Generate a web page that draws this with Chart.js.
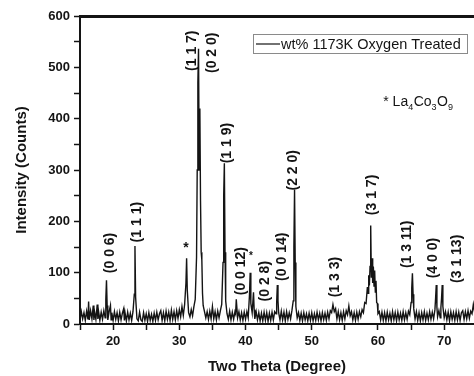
<!DOCTYPE html>
<html>
<head>
<meta charset="utf-8">
<script src="https://cdn.jsdelivr.net/npm/chart.js@4.4.1/dist/chart.umd.min.js"></script>
<style>
  html, body { margin: 0; padding: 0; background: #fff; }
</style>
</head>
<body>
<canvas id="xrd" width="474" height="376"></canvas>
<script>
// XRD pattern (2 theta in degrees, intensity in counts)
const twoTheta = [
  15.0, 15.2, 15.4, 15.6, 15.8, 16.0, 16.2, 16.3, 16.4, 16.6,
  16.8, 17.0, 17.1, 17.2, 17.4, 17.6, 17.7, 17.8, 18.0, 18.2,
  18.4, 18.6, 18.8, 18.9, 19.0, 19.1, 19.2, 19.4, 19.6, 19.7,
  19.8, 20.0, 20.2, 20.4, 20.6, 20.8, 21.0, 21.2, 21.4, 21.6,
  21.7, 21.8, 22.0, 22.2, 22.4, 22.6, 22.8, 23.0, 23.2, 23.3,
  23.4, 23.6, 23.8, 24.0, 24.2, 24.4, 24.6, 24.8, 25.0, 25.2,
  25.4, 25.6, 25.8, 26.0, 26.2, 26.4, 26.6, 26.8, 27.0, 27.2,
  27.4, 27.6, 27.8, 28.0, 28.2, 28.4, 28.6, 28.8, 29.0, 29.2,
  29.4, 29.6, 29.8, 30.0, 30.2, 30.4, 30.6, 30.8, 31.0, 31.1,
  31.2, 31.4, 31.6, 31.8, 32.0, 32.2, 32.4, 32.6, 32.7, 32.8,
  32.9, 33.0, 33.1, 33.2, 33.3, 33.4, 33.5, 33.6, 33.8, 34.0,
  34.2, 34.4, 34.6, 34.8, 35.0, 35.2, 35.4, 35.6, 35.8, 36.0,
  36.2, 36.4, 36.6, 36.7, 36.8, 36.9, 37.0, 37.2, 37.4, 37.6,
  37.8, 38.0, 38.2, 38.4, 38.5, 38.6, 38.8, 39.0, 39.2, 39.4,
  39.6, 39.8, 40.0, 40.2, 40.4, 40.6, 40.7, 40.8, 41.0, 41.2,
  41.3, 41.4, 41.6, 41.8, 42.0, 42.2, 42.4, 42.6, 42.8, 43.0,
  43.2, 43.4, 43.6, 43.8, 44.0, 44.2, 44.4, 44.6, 44.7, 44.8,
  44.9, 45.0, 45.2, 45.4, 45.6, 45.8, 46.0, 46.2, 46.4, 46.6,
  46.8, 47.0, 47.2, 47.3, 47.4, 47.5, 47.6, 47.8, 48.0, 48.2,
  48.4, 48.6, 48.8, 49.0, 49.2, 49.4, 49.6, 49.8, 50.0, 50.2,
  50.4, 50.6, 50.8, 51.0, 51.2, 51.4, 51.6, 51.8, 52.0, 52.2,
  52.4, 52.6, 52.8, 53.0, 53.2, 53.4, 53.6, 53.8, 54.0, 54.2,
  54.4, 54.6, 54.8, 55.0, 55.2, 55.4, 55.6, 55.8, 56.0, 56.2,
  56.4, 56.6, 56.8, 57.0, 57.2, 57.4, 57.6, 57.8, 58.0, 58.2,
  58.4, 58.5, 58.6, 58.7, 58.8, 58.9, 59.0, 59.1, 59.2, 59.3,
  59.4, 59.5, 59.6, 59.7, 59.8, 59.9, 60.0, 60.2, 60.4, 60.6,
  60.8, 61.0, 61.2, 61.4, 61.6, 61.8, 62.0, 62.2, 62.4, 62.6,
  62.8, 63.0, 63.2, 63.4, 63.6, 63.8, 64.0, 64.2, 64.4, 64.6,
  64.8, 65.0, 65.1, 65.2, 65.3, 65.4, 65.6, 65.8, 66.0, 66.2,
  66.4, 66.6, 66.8, 67.0, 67.2, 67.4, 67.6, 67.8, 68.0, 68.2,
  68.4, 68.6, 68.7, 68.8, 68.9, 69.0, 69.2, 69.4, 69.5, 69.6,
  69.7, 69.8, 70.0, 70.2, 70.4, 70.6, 70.8, 71.0, 71.2, 71.4,
  71.6, 71.8, 72.0, 72.2, 72.4, 72.6, 72.8, 73.0, 73.2, 73.4,
  73.6, 73.8, 74.0, 74.2, 74.4, 74.6
];
const counts = [
  8, 24, 10, 22, 7, 25, 9, 44, 8, 26,
  10, 36, 8, 24, 9, 38, 10, 25, 7, 23,
  9, 26, 12, 48, 85, 36, 8, 24, 36, 8,
  22, 7, 24, 9, 22, 6, 23, 8, 21, 30,
  7, 22, 6, 23, 8, 21, 7, 24, 58, 152,
  52, 10, 6, 23, 8, 5, 22, 7, 20, 5,
  22, 7, 19, 5, 21, 7, 23, 8, 20, 26,
  7, 22, 6, 25, 9, 23, 7, 27, 9, 24,
  8, 26, 11, 28, 14, 34, 17, 38, 80, 128,
  66, 22, 14, 28, 16, 34, 48, 130, 300, 470,
  536, 300, 420, 240, 140, 125, 60, 36, 24, 12,
  24, 9, 25, 10, 34, 10, 24, 8, 25, 12,
  26, 38, 120, 250, 313, 140, 45, 20, 9, 25,
  8, 23, 9, 24, 20, 48, 12, 24, 8, 22,
  7, 23, 9, 24, 12, 58, 100, 40, 22, 62,
  28, 10, 24, 8, 22, 6, 21, 6, 23, 7,
  22, 5, 21, 7, 23, 8, 24, 20, 42, 76,
  45, 22, 8, 25, 8, 23, 6, 24, 9, 22,
  10, 26, 45, 150, 262, 120, 34, 12, 22, 7,
  21, 6, 22, 8, 20, 6, 21, 7, 22, 6,
  20, 7, 23, 8, 21, 6, 22, 8, 21, 7,
  23, 10, 26, 22, 38, 24, 30, 10, 24, 8,
  22, 7, 24, 10, 26, 18, 35, 16, 24, 8,
  22, 7, 23, 9, 24, 14, 28, 22, 42, 40,
  72, 60, 95, 75, 112, 192, 90, 128, 80, 112,
  74, 104, 62, 84, 42, 40, 20, 24, 8, 23,
  7, 22, 6, 23, 8, 21, 6, 24, 8, 22,
  6, 23, 8, 21, 7, 24, 8, 22, 9, 25,
  18, 42, 70, 99, 58, 30, 10, 24, 7, 22,
  6, 22, 8, 24, 7, 21, 8, 24, 9, 23,
  10, 28, 50, 76, 32, 14, 26, 12, 32, 50,
  76, 34, 12, 24, 8, 23, 6, 24, 9, 22,
  7, 24, 8, 23, 7, 22, 26, 9, 24, 10,
  26, 11, 25, 20, 38, 22
];
const seriesLabel = 'wt% 1173K Oxygen Treated';

// Miller index labels: where each label starts (its lower end), in data units
const peakLabels = ['(0 0 6)', '(1 1 1)', '(1 1 7)', '(0 2 0)', '(1 1 9)', '(0 0 12)', '(0 2 8)',
                    '(0 0 14)', '(2 2 0)', '(1 3 3)', '(3 1 7)', '(1 3 11)', '(4 0 0)', '(3 1 13)'];
const peakLabelTheta = [19.5, 23.6, 31.9, 34.9, 37.2, 39.3, 42.9, 45.5, 47.2, 53.5, 59.1, 64.4, 68.3, 71.9];
const peakLabelCounts = [99, 159, 493, 489, 313, 56, 44, 84, 260, 52, 212, 109, 89, 80];

// La4Co3O9 impurity peaks marked with *
const starTheta = [31.0, 40.8];
const starCounts = [148, 132];

// note text, pieces flagged true are subscripts
const phaseNote = [['* La', false], ['4', true], ['Co', false], ['3', true], ['O', false], ['9', true]];
const phaseNoteTheta = 60.8;
const phaseNoteCounts = 425;

const xMin = 15, xMax = 74.5, xStep = 5;
const yMin = 0, yMax = 600, yStep = 50;

const FONT = "'Liberation Sans', Arial, sans-serif";
const INK = '#141414';

const annotations = {
  id: 'xrdAnnotations',
  afterDatasetsDraw(chart) {
    const ctx = chart.ctx;
    const xs = chart.scales.x, ys = chart.scales.y;
    const area = chart.chartArea;
    ctx.save();
    ctx.fillStyle = INK;

    // rotated hkl labels
    ctx.font = 'bold 14px ' + FONT;
    ctx.textAlign = 'left';
    ctx.textBaseline = 'middle';
    peakLabels.forEach((txt, i) => {
      const px = xs.getPixelForValue(peakLabelTheta[i]);
      const py = ys.getPixelForValue(peakLabelCounts[i]);
      ctx.save();
      ctx.translate(px, py);
      ctx.rotate(-Math.PI / 2);
      ctx.fillText(txt, 0, 0);
      ctx.restore();
    });

    // stars
    ctx.textAlign = 'center';
    starTheta.forEach((t, i) => {
      ctx.font = (i === 0 ? 'bold 14px ' : 'bold 10px ') + FONT;
      ctx.fillText('*', xs.getPixelForValue(t), ys.getPixelForValue(starCounts[i]));
    });

    // phase note with subscripts
    let nx = xs.getPixelForValue(phaseNoteTheta);
    const ny = ys.getPixelForValue(phaseNoteCounts);
    ctx.textAlign = 'left';
    ctx.textBaseline = 'alphabetic';
    phaseNote.forEach(([txt, sub]) => {
      ctx.font = (sub ? '9px ' : '14px ') + FONT;
      ctx.fillText(txt, nx, ny + (sub ? 4 : 0));
      nx += ctx.measureText(txt).width + (sub ? 0.5 : 0);
    });

    // legend box in the upper right corner
    const bx = area.right - 221, by = area.top + 18, bw = 214, bh = 19;
    ctx.strokeStyle = '#8a8a8a';
    ctx.lineWidth = 1;
    ctx.strokeRect(bx + 0.5, by + 0.5, bw, bh);
    ctx.strokeStyle = INK;
    ctx.lineWidth = 1.2;
    ctx.beginPath();
    ctx.moveTo(bx + 3, by + bh / 2 + 0.5);
    ctx.lineTo(bx + 27, by + bh / 2 + 0.5);
    ctx.stroke();
    ctx.font = '14.5px ' + FONT;
    ctx.textBaseline = 'middle';
    ctx.fillText(chart.data.datasets[0].label, bx + 28, by + bh / 2 + 1);

    ctx.restore();
  }
};

const points = twoTheta.map((t, i) => ({ x: t, y: counts[i] }));

new Chart(document.getElementById('xrd'), {
  type: 'line',
  data: {
    datasets: [{
      label: seriesLabel,
      data: points,
      borderColor: INK,
      borderWidth: 1.4,
      pointRadius: 0,
      tension: 0,
      fill: false
    }]
  },
  options: {
    responsive: false,
    animation: false,
    layout: { padding: 0 },
    plugins: {
      legend: { display: false },
      tooltip: { enabled: false }
    },
    scales: {
      x: {
        type: 'linear',
        position: 'bottom',
        min: xMin,
        max: xMax,
        afterFit: (s) => { s.height = 52; },
        border: { display: true, color: INK, width: 2 },
        grid: { drawOnChartArea: false, drawTicks: true, tickLength: 6, tickColor: INK, tickWidth: 1.5 },
        ticks: {
          stepSize: xStep,
          includeBounds: false,
          padding: 4,
          color: INK,
          font: { family: FONT, size: 13, weight: 'bold' },
          maxRotation: 0,
          autoSkip: false,
          callback: (v) => (v % 10 === 0 ? String(v) : '')
        },
        title: {
          display: true,
          text: 'Two Theta (Degree)',
          color: INK,
          font: { family: FONT, size: 15, weight: 'bold' },
          padding: { top: 0, bottom: 0 }
        }
      },
      xTop: {
        type: 'linear',
        axis: 'x',
        position: 'top',
        min: xMin,
        max: xMax,
        afterFit: (s) => { s.height = 16; },
        border: { display: true, color: INK, width: 3 },
        grid: { drawOnChartArea: false, drawTicks: false },
        ticks: { display: false }
      },
      y: {
        type: 'linear',
        min: yMin,
        max: yMax,
        afterFit: (s) => { s.width = 80; },
        border: { display: true, color: INK, width: 2 },
        grid: { drawOnChartArea: false, drawTicks: true, tickLength: 6, tickColor: INK, tickWidth: 1.5 },
        ticks: {
          stepSize: yStep,
          padding: 4,
          color: INK,
          font: { family: FONT, size: 13, weight: 'bold' },
          autoSkip: false,
          callback: (v) => (v % 100 === 0 ? String(v) : '')
        },
        title: {
          display: true,
          text: 'Intensity (Counts)',
          color: INK,
          font: { family: FONT, size: 15, weight: 'bold' },
          padding: { top: 13, bottom: 0 }
        }
      }
    }
  },
  plugins: [annotations]
});
</script>
</body>
</html>
